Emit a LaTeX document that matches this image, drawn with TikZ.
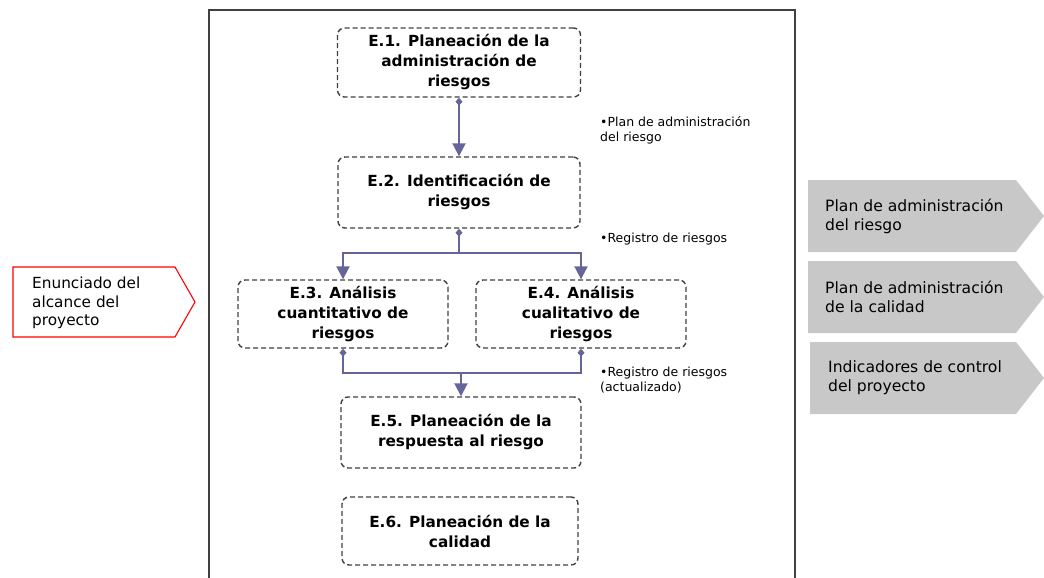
\documentclass[tikz,border=0pt]{standalone}
\usepackage{fontspec}
\setmainfont{DejaVu Sans}
\usetikzlibrary{arrows.meta}
\definecolor{conncol}{HTML}{65659A}
\definecolor{framecol}{HTML}{404040}
\definecolor{chevgray}{HTML}{C8C8C8}
\tikzset{
  stepbox/.style={draw=framecol, dashed, dash pattern=on 5pt off 3pt, line width=1.4pt, rounded corners=7pt,
    align=center, font=\fontsize{15.3}{20}\selectfont\bfseries, inner sep=0pt},
  conn/.style={draw=conncol, line width=2pt},
  tip/.style={-{Triangle[length=13pt,width=13pt]}},
  small/.style={font=\fontsize{12.5}{15}\selectfont, align=left, anchor=north west, inner sep=0pt},
  chevtext/.style={font=\fontsize{15.6}{19}\selectfont, align=left, anchor=west, inner sep=0pt},
}
\begin{document}
\begin{tikzpicture}[x=1pt,y=-1pt]
\useasboundingbox (0,0) rectangle (1044,578);
% outer frame
\draw[framecol, line width=1.5pt] (209,580) -- (209,10) -- (795,10) -- (795,580);
% step boxes
\node[stepbox, minimum width=243pt, minimum height=69pt] (e1) at (459,62.5) {E.1. Planeación de la\\administración de\\riesgos};
\node[stepbox, minimum width=242pt, minimum height=71pt] (e2) at (459,192.5) {E.2. Identificación de\\riesgos};
\node[stepbox, minimum width=210pt, minimum height=68pt] (e3) at (343,314) {E.3. Análisis\\cuantitativo de\\riesgos};
\node[stepbox, minimum width=210pt, minimum height=68pt] (e4) at (581,314) {E.4. Análisis\\cualitativo de\\riesgos};
\node[stepbox, minimum width=240pt, minimum height=71pt] (e5) at (461,432.5) {E.5. Planeación de la\\respuesta al riesgo};
\node[stepbox, minimum width=236pt, minimum height=68pt] (e6) at (460,531) {E.6. Planeación de la\\calidad};
% connectors
\draw[conn, {Diamond[length=8pt,width=7pt]}-{Triangle[length=13pt,width=13pt]}] (e1.south) -- (e2.north);
\coordinate (j1) at ([yshift=-24pt]e2.south);
\draw[conn, {Diamond[length=8pt,width=7pt]}-] (e2.south) -- (j1);
\draw[conn, tip] (j1) -| (e3.north);
\draw[conn, tip] (j1) -| (e4.north);
\coordinate (j2) at ([yshift=-24pt]e3.south);
\draw[conn, {Diamond[length=8pt,width=7pt]}-{Diamond[length=8pt,width=7pt]}] (e3.south) -- (j2) -| (e4.south);
\draw[conn, tip] (e5.north |- j2) -- (e5.north);
% side labels
\node[small] (l1) at (600,116) {•Plan de administración\\del riesgo};
\node[small] (l2) at (600,233) {•Registro de riesgos};
\node[small] (l3) at (600,367) {•Registro de riesgos\\(actualizado)};
% left input
\draw[red, line width=1.1pt, fill=white] (13,267) -- (175,267) -- (195,302) -- (175,337) -- (13,337) -- cycle;
\node[font=\fontsize{15.3}{18.5}\selectfont, align=left, anchor=west, inner sep=0pt] (in1) at (32,303) {Enunciado del\\alcance del\\proyecto};
% right outputs
\fill[chevgray] (808,180) -- (1016,180) -- (1044,216) -- (1016,252) -- (808,252) -- cycle;
\node[chevtext] (o1) at (825,216) {Plan de administración\\del riesgo};
\fill[chevgray] (808,261) -- (1016,261) -- (1044,297) -- (1016,333) -- (808,333) -- cycle;
\node[chevtext] (o2) at (825,297) {Plan de administración\\de la calidad};
\fill[chevgray] (810,342) -- (1016,342) -- (1044,378) -- (1016,414) -- (810,414) -- cycle;
\node[chevtext] (o3) at (828,378) {Indicadores de control\\del proyecto};
\end{tikzpicture}
\end{document}
